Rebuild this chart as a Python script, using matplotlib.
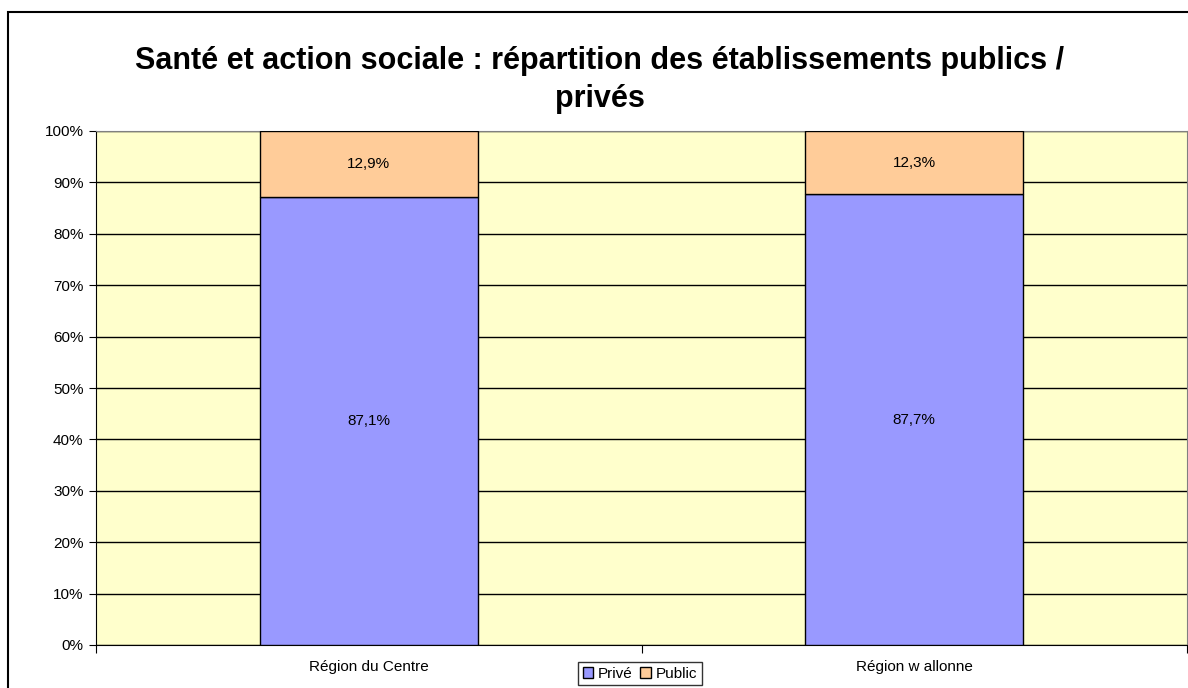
import matplotlib.pyplot as plt
from matplotlib.patches import Rectangle, Patch

# data
regions = ['Région du Centre', 'Région w allonne']
prive = [87.1, 87.7]
public = [12.9, 12.3]
prive_labels = ['87,1%', '87,7%']
public_labels = ['12,9%', '12,3%']
yticks = [0, 10, 20, 30, 40, 50, 60, 70, 80, 90, 100]

plt.rcParams['font.family'] = ['Liberation Sans', 'DejaVu Sans']

W, H = 1188, 688
fig = plt.figure(figsize=(W / 100, H / 100), dpi=100)

# chart area border (Excel style)
fig.patches.append(Rectangle((8 / W, -0.1), 1.2, 1 - 12 / H + 0.1, transform=fig.transFigure,
                             fill=False, edgecolor='black', linewidth=1.5))

ax = fig.add_axes([96 / W, 1 - 645 / H, 1091 / W, (645 - 131) / H])
ax.set_facecolor('#FFFFCC')

x = range(len(regions))
ax.bar(x, prive, width=0.4, color='#9999FF', edgecolor='black', linewidth=1, zorder=3)
ax.bar(x, public, width=0.4, bottom=prive, color='#FFCC99', edgecolor='black', linewidth=1, zorder=3)

for i in x:
    ax.text(i, prive[i] / 2, prive_labels[i], ha='center', va='center', fontsize=11, zorder=4)
    ax.text(i, prive[i] + public[i] / 2, public_labels[i], ha='center', va='center', fontsize=11, zorder=4)

ax.set_xlim(-0.5, 1.5)
ax.set_ylim(0, 100)
ax.set_yticks(yticks)
ax.set_yticklabels([f'{t}%' for t in yticks], fontsize=11)
ax.yaxis.grid(True, color='black', linewidth=1, zorder=1)
ax.set_axisbelow(True)

ax.set_xticks([-0.5, 0.5, 1.5])
ax.set_xticklabels([])
ax.set_xticks([0, 1], minor=True)
ax.set_xticklabels(regions, minor=True, fontsize=11)
ax.tick_params(axis='x', which='minor', length=0, pad=11)
ax.tick_params(axis='x', which='major', length=6, direction='out')
ax.tick_params(axis='y', length=5, direction='out', pad=4)

for s in ['top', 'right']:
    ax.spines[s].set_color('#808080')
for s in ['left', 'bottom']:
    ax.spines[s].set_color('black')

fig.text(600 / W, 1 - 80 / H,
         'Santé et action sociale : répartition des établissements publics /\nprivés',
         ha='center', va='center', fontsize=22, fontweight='bold', linespacing=1.33)

handles = [Patch(facecolor='#9999FF', edgecolor='black', label='Privé'),
           Patch(facecolor='#FFCC99', edgecolor='black', label='Public')]
fig.legend(handles=handles, loc='upper center', bbox_to_anchor=(640 / W, 1 - 662 / H),
           ncol=2, fontsize=11, frameon=True, fancybox=False, edgecolor='black',
           handlelength=0.7, handleheight=0.7, handletextpad=0.3, columnspacing=0.5,
           borderpad=0.3, borderaxespad=0)

fig.savefig('out.png', dpi=100)
